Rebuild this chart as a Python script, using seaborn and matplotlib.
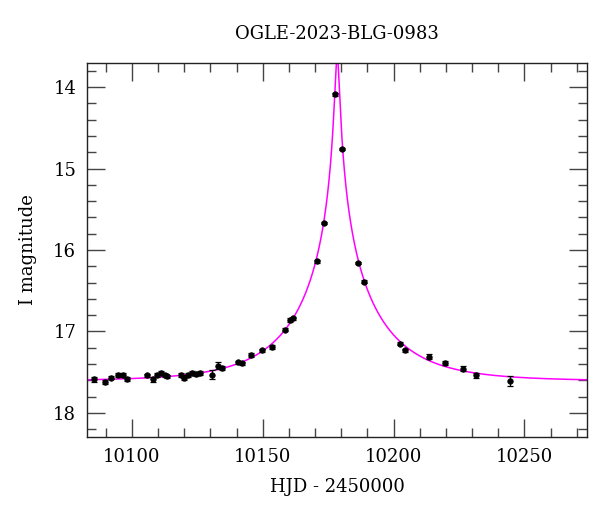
import numpy as np
import matplotlib
matplotlib.use("Agg")
import matplotlib.pyplot as plt
import seaborn as sns
from matplotlib.ticker import MultipleLocator

# Photometric data (HJD - 2450000, I magnitude, error)
hjd = [10085.7, 10089.8, 10092.0, 10094.7, 10096.6, 10098.0, 10105.8, 10108.0,
       10109.8, 10111.2, 10112.7, 10113.6, 10118.8, 10120.0, 10121.6, 10123.1,
       10124.5, 10125.9, 10130.8, 10132.8, 10134.6, 10140.7, 10142.2, 10145.7,
       10149.7, 10153.5, 10158.5, 10160.4, 10161.7, 10170.6, 10173.4, 10177.7,
       10180.4, 10186.5, 10188.7, 10202.3, 10204.4, 10213.5, 10219.5, 10226.5,
       10231.4, 10244.4]
mag = [17.59, 17.62, 17.57, 17.54, 17.53, 17.58, 17.54, 17.59,
       17.54, 17.51, 17.54, 17.55, 17.53, 17.57, 17.54, 17.51,
       17.52, 17.51, 17.53, 17.42, 17.45, 17.38, 17.39, 17.29,
       17.23, 17.19, 16.98, 16.86, 16.84, 16.14, 15.67, 14.09,
       14.76, 16.16, 16.39, 17.15, 17.23, 17.31, 17.39, 17.46,
       17.54, 17.61]
err = [0.025, 0.025, 0.02, 0.025, 0.025, 0.025, 0.02, 0.03,
       0.025, 0.025, 0.02, 0.02, 0.025, 0.03, 0.025, 0.025,
       0.025, 0.025, 0.055, 0.04, 0.025, 0.02, 0.02, 0.02,
       0.02, 0.02, 0.02, 0.02, 0.02, 0.015, 0.015, 0.015,
       0.015, 0.015, 0.02, 0.02, 0.02, 0.03, 0.025, 0.03,
       0.03, 0.06]

# Point-lens model parameters
t0 = 10178.45
u0 = 0.025
tE = 31.0
I0 = 17.61

xlim = (10083.0, 10274.0)
ylim = (18.3, 13.7)

sns.set_theme(style="ticks")
plt.rcParams['font.family'] = ['DejaVu Serif']
plt.rcParams['mathtext.fontset'] = 'dejavuserif'
plt.rcParams['text.color'] = 'black'
plt.rcParams['axes.labelcolor'] = 'black'

fig = plt.figure(figsize=(6.0, 5.12), dpi=100)
ax = fig.add_axes([0.1455, 0.1459, 0.8333, 0.7316])

tt = np.linspace(xlim[0], xlim[1], 6000)
u = np.sqrt(u0 ** 2 + ((tt - t0) / tE) ** 2)
A = (u ** 2 + 2) / (u * np.sqrt(u ** 2 + 4))
model = I0 - 2.5 * np.log10(A)

sns.lineplot(x=tt, y=model, color='#ff00ff', linewidth=1.1, ax=ax,
             estimator=None, sort=False, zorder=1)
ax.errorbar(hjd, mag, yerr=err, fmt='none', ecolor='black',
            elinewidth=0.9, capsize=2.5, capthick=0.9, zorder=2)
sns.scatterplot(x=hjd, y=mag, color='black', s=16, edgecolor='black',
                linewidth=0.5, ax=ax, zorder=3)

ax.set_xlim(*xlim)
ax.set_ylim(*ylim)
ax.xaxis.set_major_locator(MultipleLocator(50))
ax.xaxis.set_minor_locator(MultipleLocator(10))
ax.yaxis.set_major_locator(MultipleLocator(1))
ax.yaxis.set_minor_locator(MultipleLocator(0.2))
ax.tick_params(which='both', direction='in', top=True, right=True,
               color='#444444', width=1.0, labelsize=13, labelcolor='black')
ax.tick_params(which='major', length=13, pad=8)
ax.tick_params(which='minor', length=6.5)
for s in ax.spines.values():
    s.set_color('#222222')
    s.set_linewidth(1.0)

ax.set_xlabel('HJD - 2450000', fontsize=13, labelpad=8, color='black')
ax.set_ylabel('I magnitude', fontsize=13, labelpad=12, color='black')
ax.set_title('OGLE-2023-BLG-0983', fontsize=13, pad=17, color='black')

fig.savefig('out.png', dpi=100)
